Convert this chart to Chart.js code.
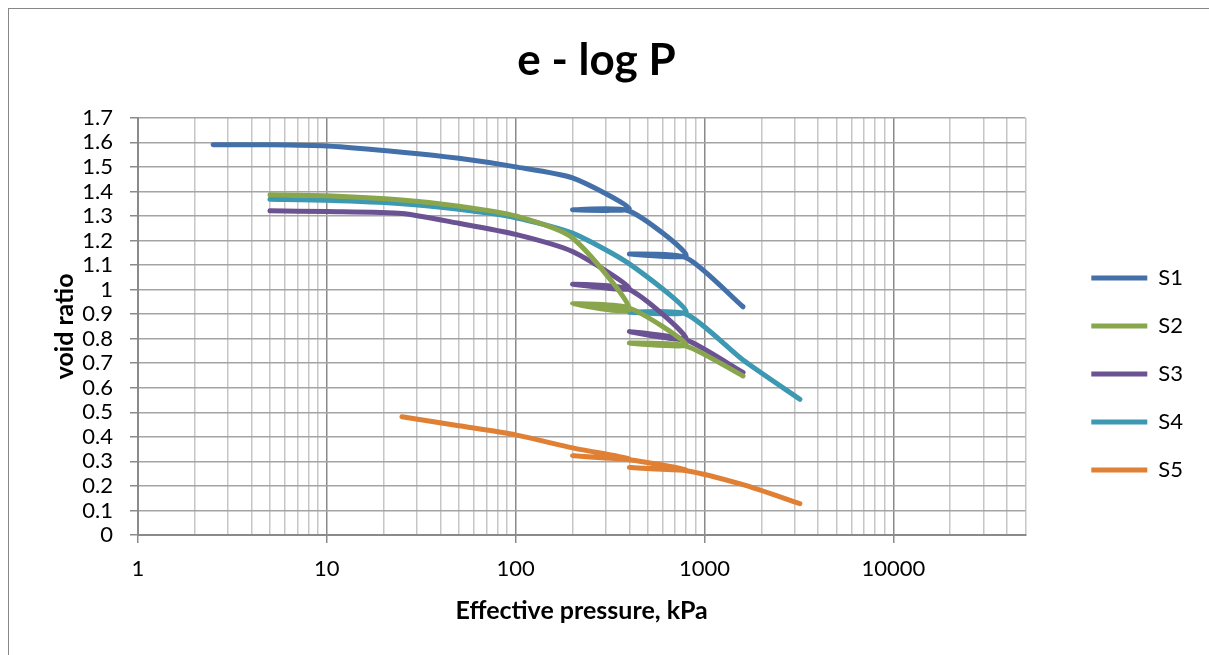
<!DOCTYPE html>
<html>
<head>
<meta charset="utf-8">
<title>e - log P</title>
<script src="https://cdn.jsdelivr.net/npm/chart.js@4.4.1/dist/chart.umd.min.js"></script>
<style>
html, body { margin: 0; padding: 0; background: #fff; overflow: hidden; }
#frame { position: absolute; left: 8px; top: 8px; width: 1400px; height: 800px; border: 1px solid #878787; }
#box { position: absolute; left: 0; top: 0; width: 1209px; height: 655px; }
</style>
</head>
<body>
<div id="frame"></div>
<div id="box"><canvas id="chart"></canvas></div>
<script>
// pressures (kPa) and void ratios
var s1Pressure = [2.5, 5, 10, 25, 50, 100, 200, 400, 200, 400, 800, 400, 800, 1600];
var s1Void     = [1.59, 1.59, 1.585, 1.56, 1.535, 1.50, 1.455, 1.33, 1.325, 1.32, 1.14, 1.145, 1.13, 0.93];

var s2Pressure = [5, 10, 25, 50, 100, 200, 400, 200, 400, 800, 400, 800, 1600];
var s2Void     = [1.386, 1.382, 1.365, 1.34, 1.30, 1.21, 0.92, 0.942, 0.925, 0.775, 0.782, 0.77, 0.648];

var s3Pressure = [5, 10, 25, 50, 100, 200, 400, 200, 400, 800, 400, 800, 1600];
var s3Void     = [1.321, 1.318, 1.31, 1.27, 1.225, 1.155, 1.005, 1.022, 1.0, 0.80, 0.829, 0.795, 0.662];

var s4Pressure = [5, 10, 25, 50, 100, 200, 400, 800, 400, 800, 1600, 3200];
var s4Void     = [1.368, 1.364, 1.35, 1.327, 1.293, 1.23, 1.105, 0.91, 0.908, 0.90, 0.713, 0.553];

var s5Pressure = [25, 50, 100, 200, 400, 200, 400, 800, 400, 800, 1600, 3200];
var s5Void     = [0.482, 0.445, 0.408, 0.355, 0.31, 0.323, 0.307, 0.265, 0.275, 0.262, 0.205, 0.128];

var seriesNames = ["S1", "S2", "S3", "S4", "S5"];
var seriesColors = ["#4470a9", "#8aa64c", "#6b5292", "#3d98b2", "#e08035"];
var xTickLabels = [1, 10, 100, 1000, 10000];

function points(px, py)
{
    return px.map((p, i) => ({x: p, y: py[i]}));
}

function isDecade(v)
{
    var l = Math.log10(v);
    return Math.abs(l - Math.round(l)) < 1e-9;
}

var allPressure = [s1Pressure, s2Pressure, s3Pressure, s4Pressure, s5Pressure];
var allVoid = [s1Void, s2Void, s3Void, s4Void, s5Void];

var datasets = seriesNames.map((name, i) => ({
    label: name,
    data: points(allPressure[i], allVoid[i]),
    showLine: true,
    borderColor: seriesColors[i],
    backgroundColor: seriesColors[i],
    borderWidth: 5,
    borderCapStyle: "round",
    borderJoinStyle: "round",
    pointRadius: 0,
    tension: 0.22
}));

Chart.defaults.font.family = "Lato";
Chart.defaults.color = "#000";

const ctx = document.getElementById("chart").getContext("2d");
const myChart = new Chart(ctx, {
    type: "scatter",
    data: {datasets: datasets},
    options: {
        responsive: true,
        maintainAspectRatio: false,
        animation: false,
        events: [],
        layout: {padding: {top: 0, right: 16, bottom: 0, left: 0}},
        plugins: {
            title: {
                display: true,
                text: "e - log P",
                font: {size: 44, weight: "bold"},
                padding: {top: 34, bottom: 31}
            },
            legend: {
                position: "right",
                title: {display: true, text: "", font: {size: 10}, padding: {top: 81, bottom: 0}},
                labels: {
                    usePointStyle: true,
                    pointStyle: "line",
                    pointStyleWidth: 56,
                    padding: 26,
                    font: {size: 22}
                }
            },
            tooltip: {enabled: false}
        },
        scales: {
            x: {
                type: "logarithmic",
                min: 1,
                max: 50000,
                afterFit: scale => { scale.height = 120; },
                afterBuildTicks: scale => {
                    scale.ticks = scale.ticks.filter(t => {
                        var m = t.value / Math.pow(10, Math.floor(Math.log10(t.value) + 1e-9));
                        return Math.abs(m - Math.round(m)) < 1e-6;
                    });
                },
                ticks: {
                    autoSkip: false,
                    maxRotation: 0,
                    padding: 13,
                    font: {size: 22},
                    callback: v => xTickLabels.some(t => Math.abs(t - v) < 1e-6) ? String(v) : ""
                },
                grid: {
                    lineWidth: 1.5,
                    tickLength: 8,
                    color: c => (c.tick && isDecade(c.tick.value)) ? "#8a8a8a" : "#c6c6c6",
                    tickColor: c => (c.tick && isDecade(c.tick.value)) ? "#8a8a8a" : "rgba(0,0,0,0)"
                },
                border: {color: "#8a8a8a", width: 2},
                title: {
                    display: true,
                    text: "Effective pressure, kPa",
                    font: {size: 25, weight: "bold"},
                    padding: {top: 10, bottom: 29}
                }
            },
            y: {
                type: "linear",
                min: 0,
                max: 1.7,
                afterFit: scale => { scale.width = 138; },
                ticks: {
                    stepSize: 0.1,
                    autoSkip: false,
                    padding: 17,
                    font: {size: 22},
                    callback: v => String(Math.round(v * 10) / 10)
                },
                grid: {lineWidth: 1.5, tickLength: 8, color: "#a4a4a4", tickColor: "#8a8a8a"},
                border: {color: "#8a8a8a", width: 2},
                title: {
                    display: true,
                    text: "void ratio",
                    font: {size: 25, weight: "bold"},
                    padding: {top: 50, bottom: 2}
                }
            },
            gap: {
                type: "linear",
                position: "right",
                display: true,
                afterFit: scale => { scale.width = 40; },
                grid: {display: false},
                border: {display: false},
                ticks: {display: false}
            }
        }
    }
});
</script>
</body>
</html>
